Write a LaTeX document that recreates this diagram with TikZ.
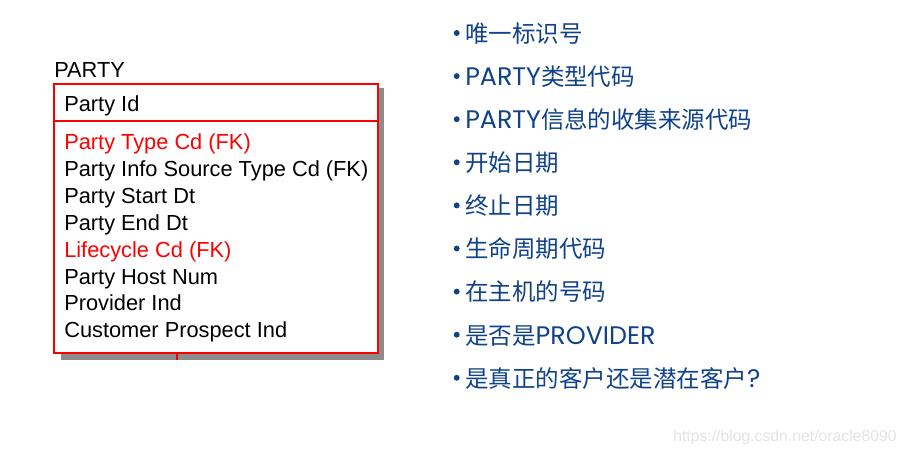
\documentclass[tikz,border=0pt]{standalone}
\usepackage{fontspec}
\setmainfont{Liberation Sans}
\newfontfamily\cjk{Noto Sans CJK SC}
\newfontfamily\geo[Scale=1.08]{Poppins}
\definecolor{erred}{RGB}{255,0,0}
\definecolor{noteblue}{RGB}{16,66,138}
\definecolor{markgray}{RGB}{228,228,228}

\begin{document}
\begin{tikzpicture}[
    x=0.025cm, y=-0.025cm,
    attr/.style={font=\fontsize{15.5}{18}\selectfont, anchor=base west, inner sep=0pt},
    fkattr/.style={attr, text=erred},
    note/.style={font=\cjk\fontsize{16.7}{20}\selectfont, text=noteblue, anchor=base west, inner sep=0pt},
    dot/.style={circle, fill=noteblue, inner sep=0pt, minimum size=4.2pt},
  ]
    %% canvas: 906 x 453 px, y downward
    \def\rowgap{26.9}  % px between attribute rows
    \def\notegap{43.1} % px between note rows

    \useasboundingbox (0,0) rectangle (906,453);
    \fill[white] (0,0) rectangle (906,453);

    %% --- entity box: shadow, frame, key divider ---
    \fill[black!45] (61,88) rectangle (384,360);
    \fill[white] (54,84) rectangle (378,353);
    \draw[erred, line width=1.1pt] (54,84) rectangle (378,353);
    \draw[erred, line width=1.1pt] (54,121) -- (378,121);
    \coordinate (stub) at (177,360);
    \draw[erred, line width=1pt] (177,353) -- (stub);

    %% --- entity name + key ---
    \node[attr] (ent) at (54,77.7) {PARTY};
    \node[attr] (pid) at (64,111) {Party Id};

    %% --- attributes (FK in red) ---
    \foreach \i/\txt/\sty in {
        1/{Party Type Cd (FK)}/fkattr,
        2/{Party Info Source Type Cd (FK)}/attr,
        3/{Party Start Dt}/attr,
        4/{Party End Dt}/attr,
        5/{Lifecycle Cd (FK)}/fkattr,
        6/{Party Host Num}/attr,
        7/{Provider Ind}/attr,
        8/{Customer Prospect Ind}/attr} {
      \node[\sty] (a\i) at (64, {149.5+\rowgap*(\i-1)}) {\txt};
    }

    %% --- notes on the right ---
    \foreach \i/\txt in {
        1/{唯一标识号},
        2/{{\geo PARTY}类型代码},
        3/{{\geo PARTY}信息的收集来源代码},
        4/{开始日期},
        5/{终止日期},
        6/{生命周期代码},
        7/{在主机的号码},
        8/{是否是{\geo PROVIDER}},
        9/{是真正的客户还是潜在客户{\geo ?}}} {
      \node[dot] (b\i) at (456.7, {42.3+\notegap*(\i-1)-9.3}) {};
      \node[note] (n\i) at (465, {42.3+\notegap*(\i-1)}) {\txt};
    }

    %% --- watermark ---
    \node[font=\fontsize{11.2}{13}\selectfont, text=markgray, anchor=base west, inner sep=0pt]
      (mark) at (673,441) {https://blog.csdn.net/oracle8090};

  \end{tikzpicture}
\end{document}
